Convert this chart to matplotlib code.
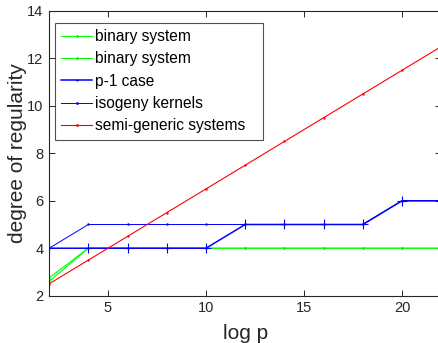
from matplotlib import pyplot as plt

plt.rcParams['font.family'] = ['Liberation Sans', 'DejaVu Sans']

# log p values (even steps)
logp = [2, 4, 6, 8, 10, 12, 14, 16, 18, 20, 22]

binary_a = [2.75, 4, 4, 4, 4, 4, 4, 4, 4, 4, 4]
binary_b = [2.6, 4, 4, 4, 4, 4, 4, 4, 4, 4, 4]
p1_case = [4, 4, 4, 4, 4, 5, 5, 5, 5, 6, 6]
isogeny = [4, 5, 5, 5, 5, 5, 5, 5, 5, 6, 6]
semi_generic = [2.5, 3.5, 4.5, 5.5, 6.5, 7.5, 8.5, 9.5, 10.5, 11.5, 12.5]

labels = ['binary system', 'binary system', 'p-1 case',
          'isogeny kernels', 'semi-generic systems']

fig = plt.figure(figsize=(4.39, 3.43), dpi=100)
ax = fig.add_axes([0.112, 0.138, 0.893, 0.830])

ax.plot(logp, binary_a, color=(0, 1, 0), lw=0.8, marker='.', ms=1.5, label=labels[0])
ax.plot(logp, binary_b, color=(0, 1, 0), lw=0.8, marker='.', ms=1.5, label=labels[1])
ax.plot(logp, p1_case, color=(0, 0, 1), lw=1.1, marker='+', ms=6.5, mew=0.8, label=labels[2])
ax.plot(logp, isogeny, color=(0, 0, 1), lw=0.7, marker='.', ms=1.5, label=labels[3])
ax.plot(logp, semi_generic, color=(1, 0, 0), lw=0.8, marker='.', ms=1.5, label=labels[4])

ax.set_xlim(2, 22)
ax.set_ylim(2, 14)
ax.set_xticks([5, 10, 15, 20])
ax.set_yticks([2, 4, 6, 8, 10, 12, 14])

gray = '#262626'
for s in ax.spines.values():
    s.set_color(gray)
    s.set_linewidth(0.8)
ax.tick_params(direction='in', top=True, right=True, length=4, width=0.7,
               colors=gray, labelsize=10.5, pad=4)

ax.set_xlabel('log p', fontsize=15, color=gray, labelpad=6)
ax.set_ylabel('degree of regularity', fontsize=15, color=gray, labelpad=0.5)

# matlab style legend box, a bit wider than the text
leg = ax.legend(loc='upper left', bbox_to_anchor=(0.0153, 0, 0.531, 0.958),
                mode='expand', borderaxespad=0, fontsize=11.2, frameon=True,
                fancybox=False, handlelength=1.95, handletextpad=0.2,
                borderpad=0.4, labelspacing=0.47)
leg.get_frame().set_edgecolor('#262626')
leg.get_frame().set_linewidth(0.8)
for h in leg.legend_handles:
    h.set_markersize(2)

fig.savefig('out.png', dpi=100)
